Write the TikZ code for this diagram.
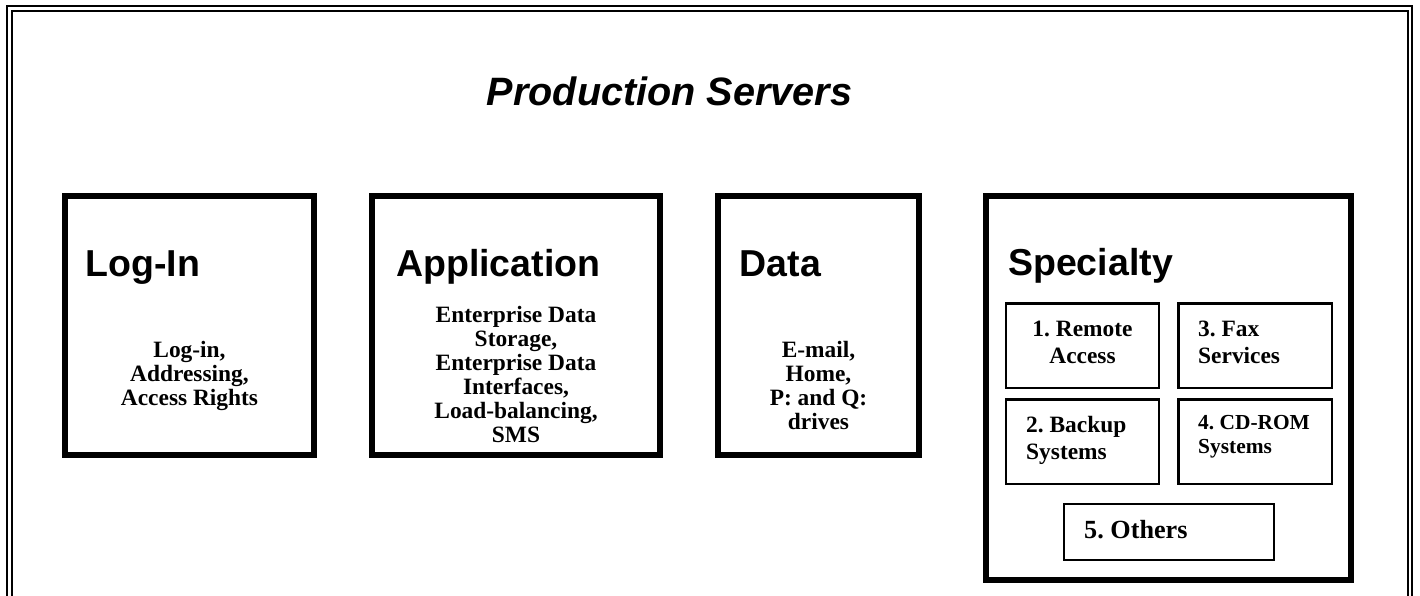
\documentclass[tikz,border=0pt]{standalone}
\usepackage{fontspec}
\setmainfont{Liberation Serif}
\newfontfamily\headfont{Liberation Sans}
\newfontfamily\bodyfont{Liberation Serif}
\newcommand{\stacktext}[2]{\begin{tabular}[t]{@{}#1@{}}#2\end{tabular}}
\frenchspacing

\tikzset{
  frameline/.style={draw, line width=2.3pt},
  serverbox/.style={draw, line width=6pt, inner sep=0pt, outer sep=0pt},
  subbox/.style={draw, line width=2.3pt, inner sep=0pt, outer sep=0pt},
  title/.style={font=\headfont\bfseries\itshape\fontsize{39.6}{48}\selectfont, anchor=base, inner sep=0pt},
  heading/.style={font=\headfont\bfseries\fontsize{37.5}{45}\selectfont, anchor=base west, inner sep=0pt},
  body/.style={font=\bodyfont\bfseries\fontsize{23.4}{24}\selectfont, anchor=base, inner sep=0pt},
  subtext/.style={font=\bodyfont\bfseries\fontsize{23.4}{27}\selectfont, inner sep=0pt},
}

\begin{document}
\begin{tikzpicture}[x=1pt, y=-1pt]
  \useasboundingbox (0,0) rectangle (1420,595);
  \fill[white] (0,0) rectangle (1420,595);
  \clip (0,0) rectangle (1420,595);

  % double page frame, open at the bottom edge
  \draw[frameline] (7,640) -- (7,6) -- (1412.2,6) -- (1412.2,640);
  \draw[frameline] (12,640) -- (12,11) -- (1407.8,11) -- (1407.8,640);

  \node[title] (ttl) at (669.5,105) {Production Servers};

  % server groups
  \node[serverbox, minimum width=249pt, minimum height=259pt] (login) at (189.5,325.5) {};
  \node[serverbox, minimum width=288pt, minimum height=259pt] (app) at (516,325.5) {};
  \node[serverbox, minimum width=201pt, minimum height=259pt] (data) at (818.5,325.5) {};
  \node[serverbox, minimum width=365pt, minimum height=384pt] (spec) at (1168.5,388) {};

  \node[heading] (loginhd) at (85.5,276) {Log-In};
  \node[heading] (apphd) at (396,276) {Application};
  \node[heading] (datahd) at (739.5,276) {Data};
  \node[heading] (spechd) at (1008,275) {Specialty};

  \node[body] (logintx) at (189.5,357) {\stacktext{c}{Log-in,\\Addressing,\\Access Rights}};
  \node[body] (apptx) at (516,322) {\stacktext{c}{Enterprise Data\\Storage,\\Enterprise Data\\Interfaces,\\Load-balancing,\\SMS}};
  \node[body] (datatx) at (818.5,357) {\stacktext{c}{E-mail,\\Home,\\P: and Q:\\drives}};

  % specialty sub-systems
  \node[subbox, minimum width=153pt, minimum height=84.5pt] (remote) at (1082.5,345.75) {};
  \node[subbox, minimum width=153pt, minimum height=84.5pt] (backup) at (1082.5,441.75) {};
  \node[subbox, minimum width=153.5pt, minimum height=84.5pt] (fax) at (1255.25,345.75) {};
  \node[subbox, minimum width=153.5pt, minimum height=84.5pt] (cdrom) at (1255.25,441.75) {};
  \node[subbox, minimum width=210pt, minimum height=56pt] (others) at (1169,532) {};

  \node[subtext, anchor=base] (remotetx) at (1082.5,336) {\stacktext{c}{1. Remote\\Access}};
  \node[subtext, anchor=base west] (backuptx) at (1026,432) {\stacktext{l}{2. Backup\\Systems}};
  \node[subtext, anchor=base west] (faxtx) at (1198,336) {\stacktext{l}{3. Fax\\Services}};
  \node[subtext, anchor=base west, font=\bodyfont\bfseries\fontsize{21.4}{24}\selectfont] (cdromtx) at (1198,429) {\stacktext{l}{4. CD-ROM\\Systems}};
  \node[subtext, anchor=base west, font=\bodyfont\bfseries\fontsize{26.2}{28}\selectfont] (otherstx) at (1084,538) {5. Others};
\end{tikzpicture}
\end{document}
